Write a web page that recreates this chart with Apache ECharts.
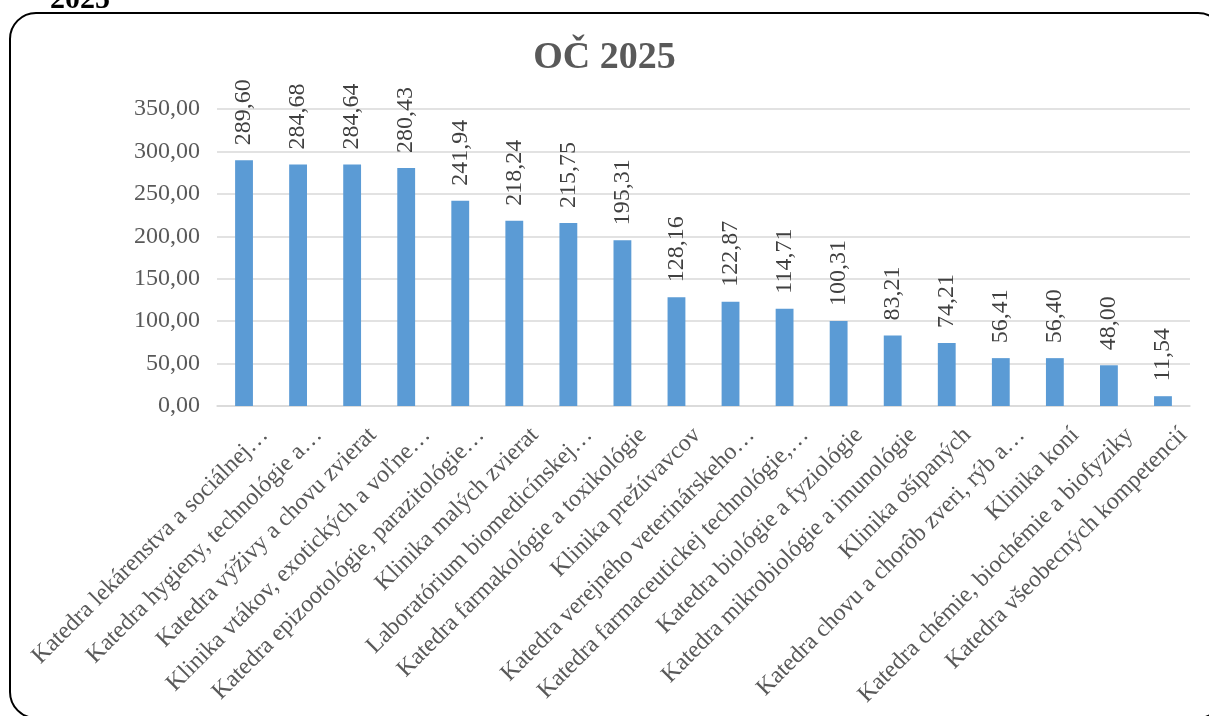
<!DOCTYPE html>
<html><head><meta charset="utf-8">
<script src="https://cdn.jsdelivr.net/npm/echarts@6/dist/echarts.min.js"></script>
<style>html,body{margin:0;padding:0;background:#fff;}#c{width:1209px;height:716px;}</style>
</head><body><div id="c"></div>
<script>
const categories = [
  "Katedra lekárenstva a sociálnej…",
  "Katedra hygieny, technológie a…",
  "Katedra výživy a chovu zvierat",
  "Klinika vtákov, exotických a voľne…",
  "Katedra epizootológie, parazitológie…",
  "Klinika malých zvierat",
  "Laboratórium biomedicínskej…",
  "Katedra farmakológie a toxikológie",
  "Klinika prežúvavcov",
  "Katedra verejného veterinárskeho…",
  "Katedra farmaceutickej technológie,…",
  "Katedra biológie a fyziológie",
  "Katedra mikrobiológie a imunológie",
  "Klinika ošípaných",
  "Katedra chovu a chorôb zveri, rýb a…",
  "Klinika koní",
  "Katedra chémie, biochémie a biofyziky",
  "Katedra všeobecných kompetencií"
];
const values = [289.60, 284.68, 284.64, 280.43, 241.94, 218.24, 215.75, 195.31, 128.16, 122.87, 114.71, 100.31, 83.21, 74.21, 56.41, 56.40, 48.00, 11.54];
const titleText = "OČ 2025";
const cornerText = "2025";

const fmt = v => Number(v).toFixed(2).replace('.', ',');
const font = "'Liberation Serif', 'Times New Roman', serif";
const chart = echarts.init(document.getElementById('c'));
chart.setOption({
  animation: false,
  backgroundColor: '#fff',
  textStyle: { fontFamily: font },
  title: {
    text: titleText, left: 'center', top: 34,
    textStyle: { fontFamily: font, fontSize: 38, fontWeight: 'bold', color: '#595959' }
  },
  graphic: [
    { type: 'rect', shape: { x: 10, y: 13, width: 1214, height: 705, r: 26 },
      style: { fill: 'none', stroke: '#000', lineWidth: 2 }, z: 10 },
    { type: 'text', left: 50, top: -15,
      style: { text: cornerText, font: "bold 30px 'Liberation Serif', serif", fill: '#000' } }
  ],
  grid: { left: 217, right: 19, top: 109, bottom: 310, containLabel: false },
  xAxis: {
    type: 'category', data: categories,
    axisLine: { lineStyle: { color: '#d9d9d9', width: 1.5 } },
    axisTick: { show: false },
    axisLabel: { interval: 0, rotate: 45, margin: 5,
      formatter: v => '{a|' + v + '}',
      rich: { a: { fontSize: 24, color: '#595959', fontFamily: font, padding: [58, 0, 0, 0] } } }
  },
  yAxis: {
    type: 'value', min: 0, max: 350, interval: 50,
    axisLine: { show: false }, axisTick: { show: false },
    splitLine: { lineStyle: { color: '#d9d9d9', width: 1.5 } },
    axisLabel: { fontSize: 24, color: '#595959', fontFamily: font, margin: 17, formatter: fmt }
  },
  series: [{
    type: 'bar', data: values, barWidth: '33%',
    itemStyle: { color: '#5b9bd5' },
    label: {
      show: true, position: 'top', rotate: 90, align: 'left', verticalAlign: 'middle',
      distance: 15, fontSize: 24, color: '#404040', fontFamily: font, formatter: p => fmt(p.value)
    }
  }]
});
</script></body></html>
